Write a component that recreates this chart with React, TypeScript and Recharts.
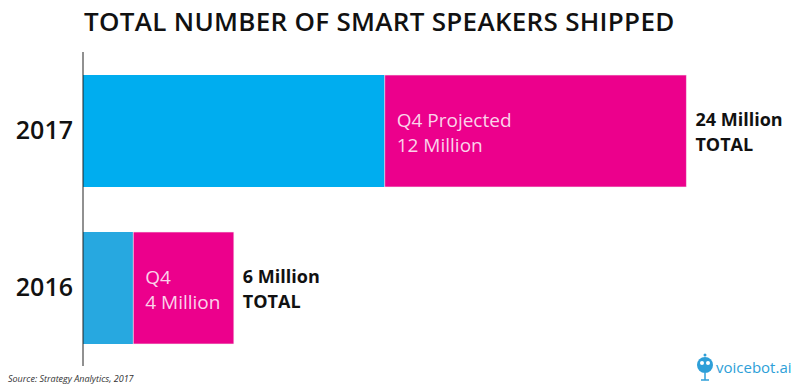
import React from 'react';
import { BarChart, Bar, XAxis, YAxis, Cell, LabelList } from 'recharts';

const years = ['2017', '2016'];
const firstThreeQuarters = [12, 2];
const fourthQuarter = [12, 4];
const q4Captions = ['Q4 Projected', 'Q4'];
const q4Amounts = ['12 Million', '4 Million'];
const totals = [24, 6];
const blues = ['#00adef', '#27a8e0'];

const data = years.map((year, i) => ({
  year,
  early: firstThreeQuarters[i],
  q4: fourthQuarter[i],
  caption: q4Captions[i],
  amount: q4Amounts[i],
  total: totals[i],
}));

const FONT = '"Open Sans", "DejaVu Sans", sans-serif';

const InsideLabel = (props: any) => {
  const { x, y, height, index } = props;
  const row = data[index];
  const cy = y + height / 2;
  return (
    <g>
      <text x={x + 12} y={cy - 4} fill="#fbd3ea" fontSize={19} fontFamily={FONT}>
        {row.caption}
      </text>
      <text x={x + 12} y={cy + 21} fill="#fbd3ea" fontSize={19} fontFamily={FONT}>
        {row.amount}
      </text>
    </g>
  );
};

const TotalLabel = (props: any) => {
  const { x, y, width, height, index } = props;
  const row = data[index];
  const cy = y + height / 2;
  return (
    <g>
      <text x={x + width + 9} y={cy - 5} fill="#111" fontSize={18} fontWeight={700} fontFamily={FONT}>
        {row.total} Million
      </text>
      <text x={x + width + 9} y={cy + 20} fill="#111" fontSize={18} fontWeight={700} fontFamily={FONT}>
        TOTAL
      </text>
    </g>
  );
};

export default function App() {
  return (
    <div style={{ position: 'absolute', left: 0, top: 0, width: 799, height: 388, background: '#fff', fontFamily: FONT }}>
      <div
        style={{
          position: 'absolute',
          left: 84,
          top: 3,
          fontSize: 26,
          fontWeight: 600,
          color: '#111',
          whiteSpace: 'nowrap',
          letterSpacing: 0.3,
        }}
      >
        TOTAL NUMBER OF SMART SPEAKERS SHIPPED
      </div>
      <BarChart
        width={799}
        height={388}
        layout="vertical"
        data={data}
        margin={{ top: 52, right: 12, left: 0, bottom: 22 }}
        barSize={112}
      >
        <XAxis type="number" hide domain={[0, 28]} />
        <YAxis
          type="category"
          dataKey="year"
          width={83}
          tickLine={false}
          axisLine={{ stroke: '#222', strokeWidth: 1 }}
          tickMargin={4}
          tick={{ fill: '#111', fontSize: 25, fontWeight: 600, fontFamily: FONT }}
        />
        <Bar dataKey="early" stackId="a" isAnimationActive={false}>
          {data.map((d, i) => (
            <Cell key={d.year} fill={blues[i]} />
          ))}
        </Bar>
        <Bar dataKey="q4" stackId="a" fill="#ec008c" stroke="#f4f4f4" strokeWidth={0.6} isAnimationActive={false}>
          <LabelList dataKey="q4" content={InsideLabel} />
          <LabelList dataKey="total" content={TotalLabel} />
        </Bar>
      </BarChart>
      <div style={{ position: 'absolute', left: 8, top: 372, fontSize: 9, fontStyle: 'italic', color: '#333' }}>
        Source: Strategy Analytics, 2017
      </div>
      <div style={{ position: 'absolute', left: 696, top: 352, display: 'flex', alignItems: 'center' }}>
        <svg width={18} height={30}>
          <circle cx={9} cy={13} r={8} fill="#2e9fd8" />
          <circle cx={6} cy={11} r={2} fill="#fff" />
          <circle cx={12} cy={11} r={2} fill="#fff" />
          <line x1={9} y1={21} x2={9} y2={28} stroke="#2e9fd8" strokeWidth={1.5} />
          <line x1={5} y1={28} x2={13} y2={28} stroke="#2e9fd8" strokeWidth={1.5} />
          <circle cx={9} cy={3} r={1.5} fill="#2e9fd8" />
        </svg>
        <span style={{ fontSize: 15, color: '#2e9fd8', marginLeft: 2 }}>voicebot.ai</span>
      </div>
    </div>
  );
}
